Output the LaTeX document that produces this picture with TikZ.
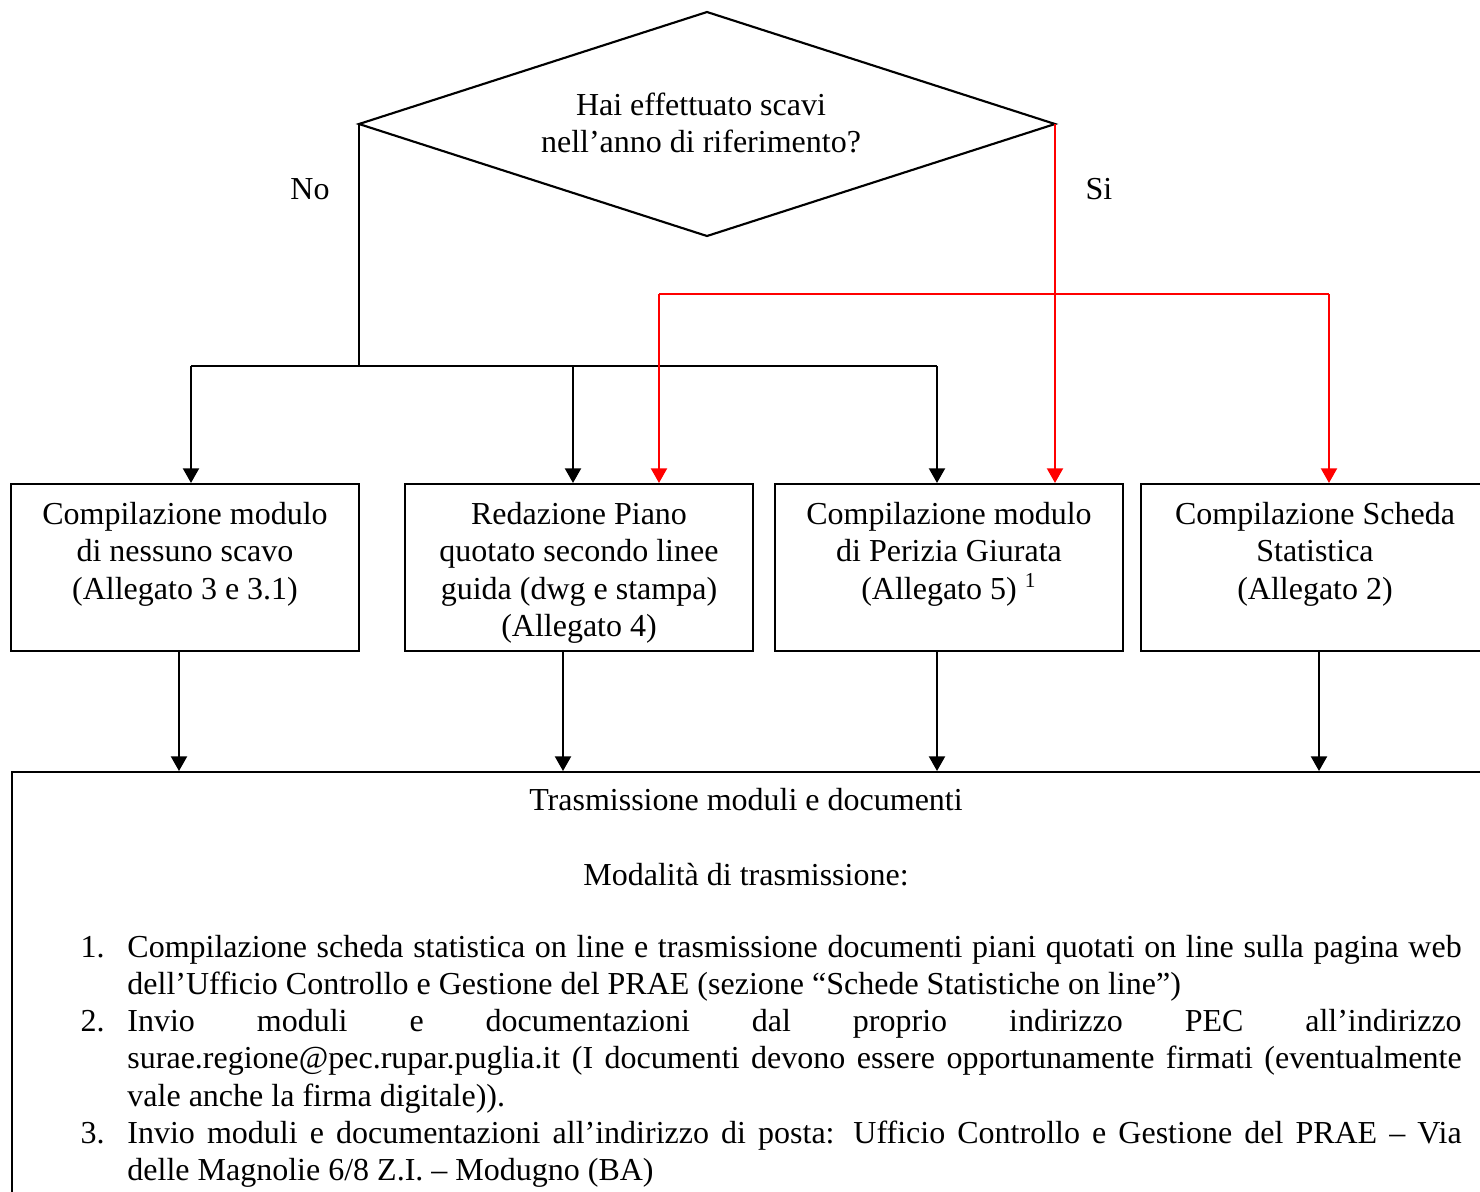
\documentclass[tikz,border=0pt]{standalone}
\usepackage{fontspec}
\setmainfont{Liberation Serif}
\usetikzlibrary{shapes.geometric,arrows.meta}

\begin{document}
\begin{tikzpicture}[x=0.375pt,y=-0.375pt,
    font=\fontsize{12}{13.9}\selectfont,
    linea/.style={line width=0.8pt},
    freccia/.style={linea,-{Triangle[width=6pt,length=5.5pt]}},
    rossa/.style={freccia,red},
    casella/.style={draw,line width=0.8pt,minimum width=130.5pt,minimum height=62.6pt,inner sep=0pt},
    testo/.style={align=center,inner sep=0pt,anchor=north}]
    \useasboundingbox (0,0) rectangle (1480,1191);
    % domanda iniziale
    \node[draw,diamond,aspect=3.1,minimum width=261pt,minimum height=84pt,inner sep=0pt,outer sep=0pt,
        line width=0.8pt] (domanda) at (707,124) {};
    \node[align=center] (tDomanda) at (701,123) {Hai effettuato scavi\\nell’anno di riferimento?};
    \node (no) at (310,189) {No};
    \node (si) at (1099,189) {Si};
    % caselle
    \node[casella] (nessuno) at (185,567.5) {};
    \node[casella] (piano) at (579,567.5) {};
    \node[casella] (perizia) at (949,567.5) {};
    \node[casella] (scheda) at (1315,567.5) {};
    \node[testo] (tNessuno) at ([yshift=-7.2pt]nessuno.north) {Compilazione modulo\\di nessuno scavo\\(Allegato 3 e 3.1)};
    \node[testo] (tPiano) at ([yshift=-7.2pt]piano.north) {Redazione Piano\\quotato secondo linee\\guida (dwg e stampa)\\(Allegato 4)};
    \node[testo] (tPerizia) at ([yshift=-7.2pt]perizia.north) {Compilazione modulo\\di Perizia Giurata\\(Allegato 5) \textsuperscript{1}};
    \node[testo] (tScheda) at ([yshift=-7.2pt]scheda.north) {Compilazione Scheda\\Statistica\\(Allegato 2)};
    % trasmissione
    \node[draw,line width=0.8pt,anchor=north west,minimum width=558pt,minimum height=165pt,inner sep=0pt] (trasm) at (11,771) {};
    \node (titolo) at (746,800) {Trasmissione moduli e documenti};
    \node (modalita) at (746,875) {Modalità di trasmissione:};
    \node[anchor=north west,inner sep=0pt,text width=517.9pt,align=justify] (elenco) at (80,935) {%
        \hyphenpenalty=10000 \tolerance=10000 \emergencystretch=10pt
        \noindent\hangindent=17.6pt\hangafter=1\makebox[17.6pt][l]{1.}Compilazione scheda statistica on line e trasmissione documenti piani quotati on line sulla pagina web\linebreak dell’Ufficio Controllo e Gestione del PRAE (sezione “Schede Statistiche on line”)\par
        \noindent\hangindent=17.6pt\hangafter=1\makebox[17.6pt][l]{2.}Invio moduli e documentazioni dal proprio indirizzo PEC all’indirizzo\linebreak surae.regione@pec.rupar.puglia.it (I documenti devono essere opportunamente firmati (eventualmente\linebreak vale anche la firma digitale)).\par
        \noindent\hangindent=17.6pt\hangafter=1\makebox[17.6pt][l]{3.}Invio moduli e documentazioni all’indirizzo di posta: Ufficio Controllo e Gestione del PRAE – Via\linebreak delle Magnolie 6/8 Z.I. – Modugno (BA)\par};
    % ramo No
    \coordinate (nodoNo) at (domanda.west |- 0,366);
    \coordinate (a1) at (191,366);
    \coordinate (a2) at (573,366);
    \coordinate (a3) at (937,366);
    \draw[linea] (domanda.west) -- (nodoNo);
    \draw[linea] (a1) -- (a3);
    \draw[freccia] (a1) -- (a1 |- nessuno.north);
    \draw[freccia] (a2) -- (a2 |- piano.north);
    \draw[freccia] (a3) -- (a3 |- perizia.north);
    % ramo Si
    \coordinate (r1) at (659,294);
    \coordinate (r2) at (1329,294);
    \draw[rossa] (domanda.east) -- (domanda.east |- perizia.north);
    \draw[linea,red] (r1) -- (r2);
    \draw[rossa] (r1) -- (r1 |- piano.north);
    \draw[rossa] (r2) -- (r2 |- scheda.north);
    % verso la trasmissione
    \foreach \b/\x in {nessuno/179,piano/563,perizia/937,scheda/1319}
        \draw[freccia] (\b.south -| \x,0) -- (\x,0 |- trasm.north);
\end{tikzpicture}
\end{document}
